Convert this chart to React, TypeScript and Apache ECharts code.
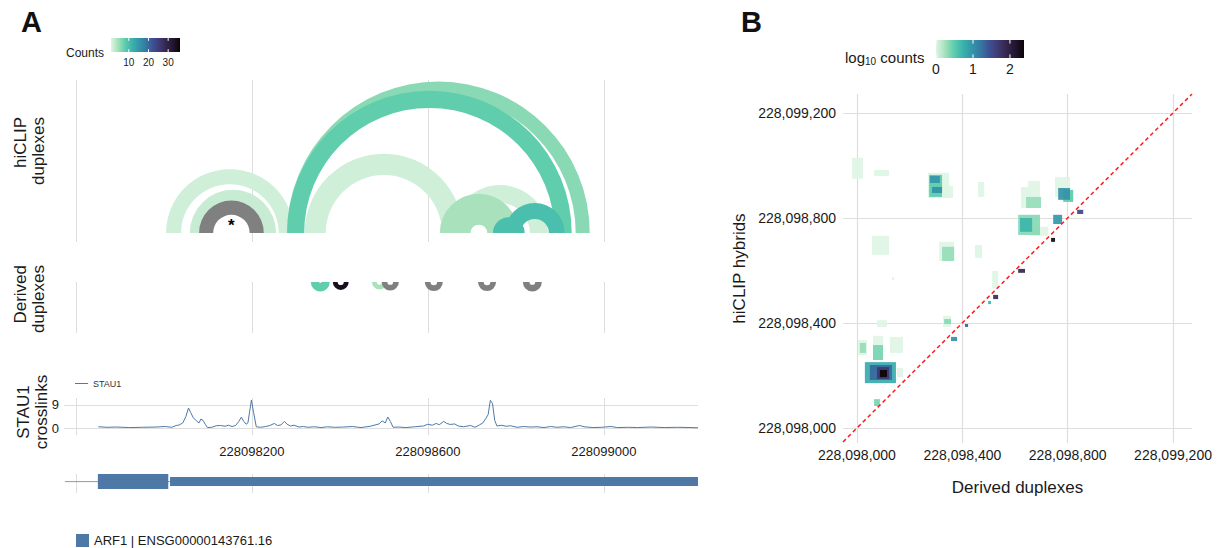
import React, { useEffect, useRef } from 'react';
import * as echarts from 'echarts';

const FONT = '"Liberation Sans", Arial, Helvetica, sans-serif';
const TXT = '#1a1a1a';
const GRID_COLOR = '#dedede';
const NA_COLOR = '#808080';
const TRACK_BLUE = '#4e79a7';

// mako palette, light -> dark
const MAKO = ['#DEF5E5', '#A8E1BC', '#60CEAC', '#3BB4AD', '#3497A9', '#357BA2', '#3D5296', '#403A75', '#35264C', '#221530', '#0B0405'];

// ---- Panel A data ----
const TRACK_RANGE = [228097773, 228099214];
const TRACK_TICKS = [228097800, 228098200, 228098600, 228099000];
const TRACK_LABELS = [228098200, 228098600, 228099000];
const COUNT_RANGE = [1, 36];
const COUNT_TICKS = [10, 20, 30];

// hiCLIP duplex arcs: [left start, right end, arm length (bp), count (null = NA), starred]
const HICLIP_ARCS: (number | null)[][] = [
  [228098005, 228098295, 34, 2, 0],
  [228098059, 228098255, 32, 2.5, 0],
  [228098320, 228098680, 48, 2, 0],
  [228098655, 228098873, 41, 2, 0],
  [228098627, 228098805, 70, 4.5, 0],
  [228098280, 228098968, 32, 6, 0],
  [228098280, 228098927, 39, 8, 0],
  [228098748, 228098820, 27, 10, 0],
  [228098775, 228098911, 36, 10, 0],
  [228098080, 228098227, 32, null, 1],
];

// derived duplexes: [start, end, arm length (bp), count (null = NA)]
const DERIVED_ARCS: (number | null)[][] = [
  [228098334, 228098377, 19, 8],
  [228098384, 228098420, 11, 34],
  [228098473, 228098507, 11, 4.5],
  [228098495, 228098534, 13, null],
  [228098593, 228098634, 13, null],
  [228098714, 228098755, 13, null],
  [228098816, 228098859, 15, null],
];

const XL_TICKS = [0, 9];
const STAU1_XL: number[][] = [
  [228097851, 0.5], [228097871, 0.3], [228097891, 0.4], [228097922, 0.2], [228097952, 0.3], [228097982, 0.4],
  [228098003, 0.6], [228098018, 0.3], [228098028, 1.0], [228098035, 1.2], [228098043, 2.0], [228098050, 4.5],
  [228098056, 7.8], [228098061, 6.0], [228098067, 4.0], [228098074, 2.8], [228098080, 2.0], [228098084, 3.5],
  [228098089, 3.0], [228098094, 1.5], [228098099, 0.2], [228098109, 0.3], [228098119, 0.9], [228098129, 1.0],
  [228098139, 0.7], [228098147, 1.1], [228098155, 0.6], [228098163, 1.0], [228098170, 2.5], [228098176, 4.2],
  [228098182, 2.5], [228098187, 1.5], [228098191, 2.0], [228098195, 6.5], [228098199, 10.9], [228098204, 6.0],
  [228098210, 0.5], [228098220, 0.3], [228098231, 0.6], [228098241, 1.0], [228098251, 1.8], [228098258, 1.0],
  [228098266, 1.2], [228098274, 2.6], [228098280, 1.5], [228098288, 0.8], [228098296, 1.1], [228098307, 0.4],
  [228098317, 0.6], [228098327, 0.3], [228098342, 0.5], [228098357, 0.2], [228098372, 0.5], [228098388, 0.3],
  [228098408, 0.4], [228098428, 0.6], [228098448, 0.2], [228098469, 0.7], [228098489, 1.6], [228098496, 2.8],
  [228098503, 2.0], [228098509, 4.3], [228098515, 2.5], [228098521, 0.3], [228098534, 0.4], [228098550, 0.2],
  [228098570, 0.5], [228098590, 0.8], [228098600, 1.5], [228098610, 1.1], [228098619, 1.8], [228098626, 1.3],
  [228098636, 2.6], [228098643, 1.8], [228098651, 1.4], [228098661, 1.6], [228098669, 0.8], [228098681, 0.5],
  [228098697, 1.0], [228098707, 0.3], [228098717, 1.2], [228098725, 2.0], [228098732, 3.8], [228098737, 5.2],
  [228098742, 10.8], [228098747, 9.5], [228098752, 3.0], [228098757, 0.8], [228098767, 1.1], [228098778, 0.7],
  [228098788, 0.9], [228098803, 0.3], [228098818, 0.6], [228098833, 0.4], [228098848, 0.5], [228098864, 0.2],
  [228098879, 0.6], [228098894, 0.3], [228098909, 0.5], [228098924, 0.2], [228098945, 1.0], [228098955, 0.5],
  [228098975, 0.2], [228098995, 0.3], [228099016, 0.6], [228099031, 0.2], [228099056, 0.3], [228099076, 0.2],
  [228099107, 0.4], [228099137, 0.2], [228099168, 0.3], [228099198, 0.2], [228099214, 0.1],
];

const GENE_NAME = 'ARF1 | ENSG00000143761.16';
// [start, end, kind] kind 0 = line, 1 = thick exon, 2 = thin exon
const GENE_PARTS = [
  [228097775, 228099214, 0],
  [228097850, 228098010, 1],
  [228098014, 228099214, 2],
];

// ---- Panel B data ----
const B_X_RANGE = [228097947, 228099272];
const B_Y_RANGE = [228097943, 228099272];
const B_TICKS = [228098000, 228098400, 228098800, 228099200];
const LOG_RANGE = [0, 2.38];
const LOG_TICKS = [0, 1, 2];
const DIAGONAL = [228097947, 228099272];
// [x start, x end, y start, y end, log10 count]
const HYBRID_TILES = [
  [228097981, 228098023, 228098949, 228099029, 0],
  [228098065, 228098122, 228098960, 228098983, 0],
  [228098270, 228098350, 228098876, 228098972, 0],
  [228098323, 228098365, 228098876, 228098922, 0],
  [228098274, 228098323, 228098880, 228098964, 0.5],
  [228098277, 228098315, 228098933, 228098960, 0.95],
  [228098285, 228098323, 228098895, 228098918, 1.0],
  [228098460, 228098483, 228098880, 228098937, 0],
  [228098650, 228098695, 228098880, 228098941, 0],
  [228098623, 228098657, 228098838, 228098918, 0],
  [228098642, 228098699, 228098838, 228098880, 0.3],
  [228098612, 228098695, 228098735, 228098812, 0.35],
  [228098619, 228098665, 228098747, 228098800, 0.7],
  [228098657, 228098726, 228098732, 228098766, 0],
  [228098745, 228098779, 228098777, 228098812, 0.95],
  [228098752, 228098809, 228098880, 228098956, 0],
  [228098783, 228098821, 228098861, 228098907, 0.5],
  [228098764, 228098809, 228098869, 228098914, 1.0],
  [228098836, 228098859, 228098815, 228098831, 1.55],
  [228098737, 228098752, 228098709, 228098724, 2.35],
  [228098057, 228098122, 228098659, 228098732, 0],
  [228098312, 228098369, 228098636, 228098709, 0],
  [228098323, 228098369, 228098636, 228098690, 0.3],
  [228098448, 228098475, 228098648, 228098697, 0],
  [228098133, 228098141, 228098564, 228098575, 0],
  [228098513, 228098536, 228098533, 228098598, 0],
  [228098612, 228098638, 228098591, 228098606, 1.9],
  [228098517, 228098536, 228098491, 228098507, 1.85],
  [228098498, 228098509, 228098472, 228098484, 0.7],
  [228098410, 228098422, 228098385, 228098396, 1.4],
  [228098357, 228098380, 228098331, 228098347, 1.0],
  [228098327, 228098357, 228098385, 228098427, 0],
  [228098331, 228098357, 228098396, 228098415, 0.35],
  [228098076, 228098114, 228098385, 228098411, 0],
  [228098004, 228098038, 228098278, 228098335, 0],
  [228098011, 228098034, 228098286, 228098324, 0.3],
  [228098061, 228098099, 228098316, 228098351, 0],
  [228098061, 228098099, 228098259, 228098316, 0.4],
  [228098125, 228098175, 228098286, 228098347, 0],
  [228098030, 228098148, 228098171, 228098251, 0.8],
  [228098049, 228098133, 228098183, 228098240, 1.3],
  [228098076, 228098122, 228098187, 228098232, 1.7],
  [228098087, 228098114, 228098194, 228098221, 2.38],
  [228098065, 228098087, 228098084, 228098110, 0.4],
  [228098152, 228098175, 228098194, 228098229, 0],
];

function arcRenderer(flip: boolean) {
  return (params: any, api: any) => {
    const s = api.value(0), e = api.value(1), arm = api.value(2), cnt = api.value(3), star = api.value(4);
    const p1 = api.coord([s, 0]);
    const p2 = api.coord([e, 0]);
    const r = (p2[0] - p1[0]) / 2;
    const armPx = Math.abs(api.size([arm, 0])[0]);
    const fill = cnt < 0 ? NA_COLOR : api.visual('color');
    const children: any[] = [{
      type: 'sector',
      shape: {
        cx: p1[0] + r, cy: p1[1], r0: Math.max(0, r - armPx), r,
        startAngle: flip ? 0 : Math.PI, endAngle: flip ? Math.PI : Math.PI * 2, clockwise: true,
      },
      style: { fill },
    }];
    if (star === 1) {
      children.push({
        type: 'text', x: p1[0] + r, y: p1[1] - 8,
        style: { text: '*', fontSize: 17, fontWeight: 'bold', fill: '#000', align: 'center', verticalAlign: 'middle', fontFamily: FONT },
      });
    }
    return { type: 'group', children };
  };
}

function geneRenderer(params: any, api: any) {
  const s = api.value(0), e = api.value(1), kind = api.value(2);
  const p1 = api.coord([s, 0.6]);
  const p2 = api.coord([e, 0.6]);
  if (kind === 0) {
    return { type: 'line', shape: { x1: p1[0], y1: p1[1], x2: p2[0], y2: p2[1] }, style: { stroke: '#999999', lineWidth: 1 } };
  }
  const h = kind === 1 ? 15 : 9;
  return { type: 'rect', shape: { x: p1[0], y: p1[1] - h / 2, width: p2[0] - p1[0], height: h }, style: { fill: TRACK_BLUE } };
}

function tileRenderer(params: any, api: any) {
  const a = api.coord([api.value(0), api.value(3)]);
  const b = api.coord([api.value(1), api.value(2)]);
  return {
    type: 'rect',
    shape: { x: a[0], y: a[1], width: b[0] - a[0], height: b[1] - a[1] },
    style: { fill: api.visual('color'), opacity: 0.92 },
  };
}

function colorbar(x: number, y: number, w: number, h: number, range: number[], ticks: number[], labelY: number, fontSize: number, fmt: (v: number) => string) {
  const els: any[] = [{
    type: 'rect', shape: { x, y, width: w, height: h },
    style: {
      fill: { type: 'linear', x: 0, y: 0, x2: 1, y2: 0, colorStops: MAKO.map((c, i) => ({ offset: i / (MAKO.length - 1), color: c })) },
    },
  }];
  ticks.forEach((t) => {
    const tx = x + ((t - range[0]) / (range[1] - range[0])) * w;
    const tl = h / 5;
    els.push({ type: 'line', shape: { x1: tx, y1: y, x2: tx, y2: y + tl }, style: { stroke: '#ffffff', lineWidth: 1 } });
    els.push({ type: 'line', shape: { x1: tx, y1: y + h - tl, x2: tx, y2: y + h }, style: { stroke: '#ffffff', lineWidth: 1 } });
    els.push({ type: 'text', x: tx, y: labelY, style: { text: fmt(t), fontSize, fontFamily: FONT, fill: TXT, align: 'center', verticalAlign: 'middle' } });
  });
  return els;
}

function trackXAxis(gridIndex: number, showLabels: boolean) {
  return {
    type: 'value', gridIndex, min: TRACK_RANGE[0], max: TRACK_RANGE[1],
    axisLine: { show: false },
    axisTick: { show: false, customValues: TRACK_TICKS },
    axisLabel: {
      show: showLabels, customValues: TRACK_LABELS, fontSize: 13, color: TXT, fontFamily: FONT, margin: 10,
      formatter: (v: number) => String(v),
    },
    splitLine: { show: true, lineStyle: { color: GRID_COLOR, width: 1 } },
  };
}

function buildOption() {
  const rotTitle = (text: string, x: number, y: number, align: string) => ({
    type: 'text', x, y, rotation: Math.PI / 2,
    style: { text, fontSize: 17, lineHeight: 18, fontFamily: FONT, fill: TXT, align, verticalAlign: 'middle' },
  });
  const fmtComma = (v: number) => v.toLocaleString('en-US');
  return {
    animation: false,
    textStyle: { fontFamily: FONT },
    grid: [
      { left: 64, width: 634, top: 80, height: 162 },
      { left: 64, width: 634, top: 282, height: 51 },
      { left: 64, width: 634, top: 398, height: 37 },
      { left: 64, width: 634, top: 474, height: 19 },
      { left: 843, width: 349, top: 94, height: 349 },
    ],
    xAxis: [
      trackXAxis(0, false),
      trackXAxis(1, false),
      trackXAxis(2, true),
      trackXAxis(3, false),
      {
        type: 'value', gridIndex: 4, min: B_X_RANGE[0], max: B_X_RANGE[1],
        axisLine: { show: false },
        axisTick: { show: false, customValues: B_TICKS },
        axisLabel: { customValues: B_TICKS, fontSize: 14, color: TXT, fontFamily: FONT, margin: 5, formatter: fmtComma },
        splitLine: { show: true, lineStyle: { color: GRID_COLOR, width: 1.2 } },
        name: 'Derived duplexes', nameLocation: 'middle', nameGap: 36,
        nameTextStyle: { fontSize: 17, color: TXT, fontFamily: FONT },
      },
    ],
    yAxis: [
      { type: 'value', gridIndex: 0, min: -9, max: 153, show: false },
      { type: 'value', gridIndex: 1, min: -51, max: 0, show: false },
      {
        type: 'value', gridIndex: 2, min: -2.7, max: 11.7,
        axisLine: { show: false },
        axisTick: { show: false, customValues: XL_TICKS },
        axisLabel: { customValues: XL_TICKS, fontSize: 13, color: TXT, fontFamily: FONT, margin: 5 },
        splitLine: { show: true, lineStyle: { color: GRID_COLOR, width: 1 } },
      },
      { type: 'value', gridIndex: 3, min: 0, max: 1, show: false },
      {
        type: 'value', gridIndex: 4, min: B_Y_RANGE[0], max: B_Y_RANGE[1],
        axisLine: { show: false },
        axisTick: { show: false, customValues: B_TICKS },
        axisLabel: { customValues: B_TICKS, fontSize: 14, color: TXT, fontFamily: FONT, margin: 7, formatter: fmtComma },
        splitLine: { show: true, lineStyle: { color: GRID_COLOR, width: 1.2 } },
        name: 'hiCLIP hybrids', nameLocation: 'middle', nameGap: 95, nameRotate: 90,
        nameTextStyle: { fontSize: 17, color: TXT, fontFamily: FONT },
      },
    ],
    visualMap: [
      { type: 'continuous', show: false, min: COUNT_RANGE[0], max: COUNT_RANGE[1], dimension: 3, seriesIndex: [0, 1], inRange: { color: MAKO } },
      { type: 'continuous', show: false, min: LOG_RANGE[0], max: LOG_RANGE[1], dimension: 4, seriesIndex: [4], inRange: { color: MAKO } },
    ],
    legend: [
      {
        data: ['STAU1'], left: 70, top: 374, icon: 'rect', itemWidth: 13, itemHeight: 1, selectedMode: false,
        textStyle: { fontSize: 9, color: '#333', fontFamily: FONT },
      },
      {
        data: [GENE_NAME], left: 71, top: 529, icon: 'rect', itemWidth: 13, itemHeight: 13, selectedMode: false,
        itemStyle: { color: TRACK_BLUE },
        textStyle: { fontSize: 13, color: TXT, fontFamily: FONT },
      },
    ],
    series: [
      {
        type: 'custom', name: 'hiCLIP duplexes', xAxisIndex: 0, yAxisIndex: 0, encode: { x: [0, 1] },
        renderItem: arcRenderer(false),
        data: HICLIP_ARCS.map((a) => [a[0], a[1], a[2], a[3] == null ? -1 : a[3], a[4]]),
      },
      {
        type: 'custom', name: 'Derived duplexes', xAxisIndex: 1, yAxisIndex: 1, encode: { x: [0, 1] },
        renderItem: arcRenderer(true),
        data: DERIVED_ARCS.map((a) => [a[0], a[1], a[2], a[3] == null ? -1 : a[3], 0]),
      },
      {
        type: 'line', name: 'STAU1', xAxisIndex: 2, yAxisIndex: 2, data: STAU1_XL, showSymbol: false, symbol: 'none',
        lineStyle: { color: TRACK_BLUE, width: 1 }, itemStyle: { color: TRACK_BLUE },
      },
      {
        type: 'custom', name: GENE_NAME, xAxisIndex: 3, yAxisIndex: 3, encode: { x: [0, 1] },
        itemStyle: { color: TRACK_BLUE },
        renderItem: geneRenderer, data: GENE_PARTS,
      },
      {
        type: 'custom', name: 'hybrid tiles', xAxisIndex: 4, yAxisIndex: 4, encode: { x: [0, 1], y: [2, 3] },
        renderItem: tileRenderer,
        data: HYBRID_TILES.slice().sort((a, b) => a[4] - b[4]),
      },
      {
        type: 'line', name: 'y = x', xAxisIndex: 4, yAxisIndex: 4, symbol: 'none',
        data: [[DIAGONAL[0], DIAGONAL[0]], [DIAGONAL[1], DIAGONAL[1]]],
        lineStyle: { color: '#ff1a1a', width: 1.5, type: [4, 3] },
      },
    ],
    graphic: [
      { type: 'text', x: 21, y: 22, style: { text: 'A', fontSize: 29, fontWeight: 'bold', fontFamily: FONT, fill: '#111', verticalAlign: 'middle' } },
      { type: 'text', x: 741, y: 22, style: { text: 'B', fontSize: 29, fontWeight: 'bold', fontFamily: FONT, fill: '#111', verticalAlign: 'middle' } },
      rotTitle('hiCLIP\nduplexes', 29, 117, 'right'),
      rotTitle('Derived\nduplexes', 29, 265, 'right'),
      rotTitle('STAU1\ncrosslinks', 32, 412, 'center'),
      { type: 'text', x: 66, y: 53, style: { text: 'Counts', fontSize: 12, fontFamily: FONT, fill: TXT, verticalAlign: 'middle' } },
      ...colorbar(111, 38, 69, 14, COUNT_RANGE, COUNT_TICKS, 62, 10, (v) => String(v)),
      {
        type: 'text', x: 845, y: 57,
        style: {
          text: 'log{sub|10} counts', fontSize: 15, fontFamily: FONT, fill: TXT, verticalAlign: 'middle',
          rich: { sub: { fontSize: 10, fontFamily: FONT, fill: TXT, padding: [8, 0, 0, 0] } },
        },
      },
      ...colorbar(936, 40, 88, 18, LOG_RANGE, LOG_TICKS, 69, 14, (v) => String(v)),
    ],
  };
}

export default function App() {
  const ref = useRef<HTMLDivElement>(null);
  useEffect(() => {
    document.body.style.margin = '0';
    const chart = echarts.init(ref.current!, null, { renderer: 'svg' });
    chart.setOption(buildOption() as any);
    return () => chart.dispose();
  }, []);
  return <div ref={ref} style={{ width: 1218, height: 548 }} />;
}
